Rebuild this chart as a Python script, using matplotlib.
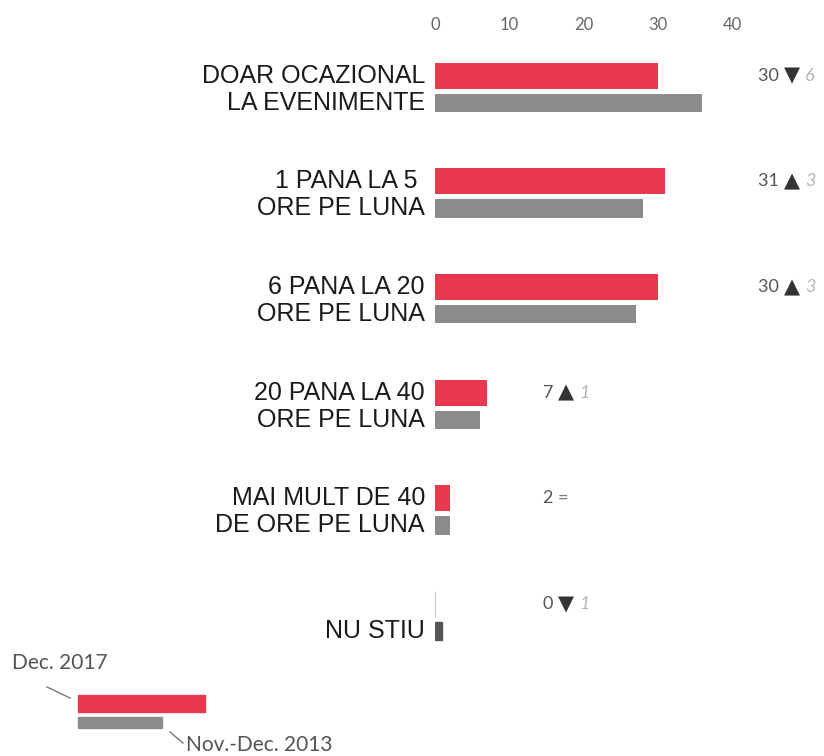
import matplotlib.pyplot as plt
import numpy as np
from matplotlib.patches import Rectangle

plt.rcParams['font.family'] = ['Liberation Sans', 'DejaVu Sans']

# survey answers (Romanian), two lines per label
categories = [
    ('DOAR OCAZIONAL', 'LA EVENIMENTE'),
    ('1 PANA LA 5 ', 'ORE PE LUNA'),
    ('6 PANA LA 20', 'ORE PE LUNA'),
    ('20 PANA LA 40', 'ORE PE LUNA'),
    ('MAI MULT DE 40', 'DE ORE PE LUNA'),
    ('', 'NU STIU'),
]
dec_2017 = [30, 31, 30, 7, 2, 0]
nov_dec_2013 = [36, 28, 27, 6, 2, 1]
xticks = [0, 10, 20, 30, 40]
series_names = ['Dec. 2017', 'Nov.-Dec. 2013']

RED = '#e8394f'
GREY = '#8e8b8b'
num_font = ['Lato', 'DejaVu Sans']

fig = plt.figure(figsize=(8.24, 7.56), dpi=100)
ax = fig.add_axes([435 / 824, 75 / 756, 1 - 435 / 824, 645 / 756])

y = np.arange(len(categories))
off = 0.128
red_bars = ax.barh(y - off, dec_2017, height=0.245, color=RED)
grey_bars = ax.barh(y + off, nov_dec_2013, height=0.172, color=GREY)
grey_bars[-1].set_color('#555555')
# zero-width bar gets a faint outline so it stays visible
for b, v in zip(red_bars, dec_2017):
    if v == 0:
        b.set_edgecolor('#cfcfcf')
        b.set_linewidth(1)

ax.set_xlim(0, 389 / 7.43)
ax.set_ylim(5.6, -0.504)
ax.xaxis.tick_top()
ax.set_xticks(xticks)
ax.set_xticklabels([str(t) for t in xticks], fontsize=12, color='#666666', family=num_font)
ax.tick_params(axis='x', length=0, pad=2)
ax.set_yticks([])
for s in ax.spines.values():
    s.set_visible(False)

# two-line category labels to the left of the bars
for i, (l1, l2) in enumerate(categories):
    ax.text(-1.35, i - off, l1, ha='right', va='center', fontsize=18, color='#1a1a1a', clip_on=False)
    ax.text(-1.35, i + off, l2, ha='right', va='center', fontsize=18, color='#1a1a1a', clip_on=False)

# current value plus change since 2013
for i, (now, before) in enumerate(zip(dec_2017, nov_dec_2013)):
    diff = now - before
    x0 = 43.5 if now >= 20 else 14.5
    t = ax.text(x0, i - off, f'{now} ', ha='left', va='center', fontsize=13, color='#555555',
                family=num_font, clip_on=False)
    if diff > 0:
        sym = '\u25b2'
    elif diff < 0:
        sym = '\u25bc'
    else:
        sym = '='
    ann = ax.annotate(sym + ' ', xycoords=t, xy=(1, 0.5), va='center', ha='left',
                      fontsize=15 if diff != 0 else 13,
                      color='#333333' if diff != 0 else '#777777', family=num_font)
    if diff != 0:
        ax.annotate(str(abs(diff)), xycoords=ann, xy=(1, 0.5), va='center', ha='left', fontsize=13,
                    color='#b5b5b5', style='italic', family=num_font)

# hand-drawn legend in pixel coordinates
lg = fig.add_axes([0, 0, 1, 1])
lg.set_xlim(0, 824)
lg.set_ylim(756, 0)
lg.axis('off')
lg.add_patch(Rectangle((78, 695), 127, 17, color=RED))
lg.add_patch(Rectangle((78, 717), 84, 11, color=GREY))
lg.plot([47, 70], [687, 698], color='#777777', lw=1)
lg.plot([170, 183], [732, 743], color='#777777', lw=1)
lg.text(12, 663, series_names[0], ha='left', va='center', fontsize=15, color='#555555', family=num_font)
lg.text(186, 745, series_names[1], ha='left', va='center', fontsize=15, color='#555555', family=num_font)

fig.savefig('out.png', dpi=100)
